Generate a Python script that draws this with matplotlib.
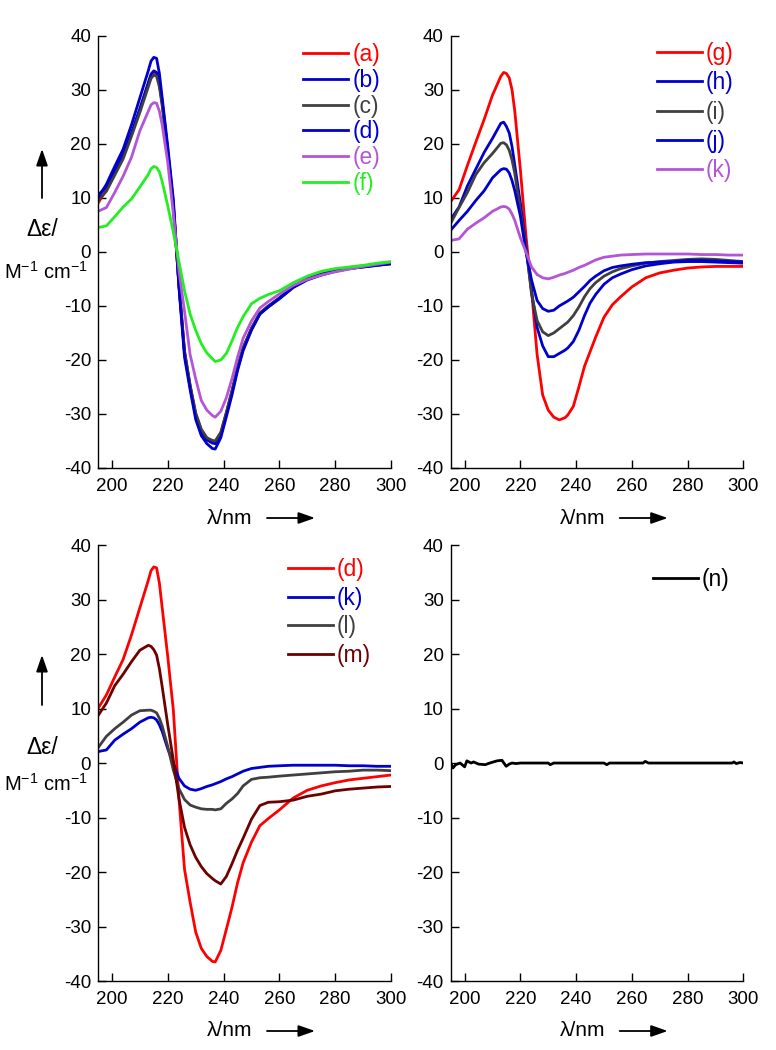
#%%
#plots the CD spectra of the four sample sets on a 2x2 grid
#values

import numpy as np
import matplotlib
matplotlib.use('Agg')
import matplotlib.pyplot as plt
from matplotlib.lines import Line2D
from matplotlib.patches import FancyArrowPatch

plt.rcParams['font.family'] = ['Liberation Sans', 'DejaVu Sans']
plt.rcParams['mathtext.fontset'] = 'custom'
plt.rcParams['mathtext.rm'] = 'Liberation Sans'
plt.rcParams['mathtext.it'] = 'Liberation Sans:italic'
plt.rcParams['axes.unicode_minus'] = False

#wavelength grid (nm) shared by the spectra
wl = [195, 198, 201, 204, 207, 210, 213, 214, 215, 216, 217, 218, 220, 222, 224, 226, 228, 230,
      232, 234, 236, 237, 239, 241, 243, 245, 247, 250, 253, 256, 260, 265, 270, 275, 280, 285,
      290, 295, 300]

#delta epsilon (M-1 cm-1)
spec_a = [9.0, 11.5, 14.5, 17.6, 21.8, 26.3, 31.0, 32.6, 33.2, 33.0, 31.0, 27.5, 18.5, 8.5, -6.0,
          -18.5, -24.8, -30.0, -33.0, -34.5, -35.1, -35.2, -33.5, -29.8, -25.8, -21.5, -17.8,
          -14.2, -11.4, -10.1, -8.6, -6.5, -5.1, -4.2, -3.5, -3.0, -2.7, -2.4, -2.2]
spec_b = [10.5, 12.0, 15.0, 18.0, 22.0, 26.5, 31.3, 32.9, 33.5, 33.2, 31.2, 27.8, 18.8, 8.8, -6.2,
          -18.8, -25.0, -30.3, -33.2, -34.8, -35.4, -35.5, -33.8, -30.0, -26.0, -21.6, -17.9,
          -14.3, -11.5, -10.2, -8.7, -6.6, -5.2, -4.3, -3.6, -3.1, -2.8, -2.5, -2.2]
spec_c = [9.5, 11.2, 14.2, 17.2, 21.4, 25.8, 30.5, 32.1, 32.7, 32.5, 30.5, 27.0, 18.2, 8.2, -6.0,
          -18.3, -24.6, -29.8, -32.8, -34.4, -34.9, -35.0, -33.4, -29.7, -25.7, -21.4, -17.7,
          -14.1, -11.3, -10.0, -8.5, -6.4, -5.0, -4.1, -3.4, -2.9, -2.6, -2.3, -2.1]
spec_d = [10.0, 12.5, 15.8, 19.0, 23.5, 28.5, 33.5, 35.3, 36.0, 35.8, 33.0, 28.5, 19.5, 9.7, -6.5,
          -19.5, -25.5, -31.0, -34.0, -35.5, -36.4, -36.5, -34.4, -30.5, -26.5, -22.0, -18.3,
          -14.5, -11.5, -10.2, -8.6, -6.4, -5.0, -4.2, -3.6, -3.1, -2.8, -2.5, -2.2]
spec_e = [7.5, 8.2, 11.0, 14.0, 17.5, 22.4, 26.0, 27.2, 27.6, 27.5, 26.0, 23.5, 16.5, 7.0, -3.5,
          -11.0, -19.0, -23.5, -27.5, -29.3, -30.3, -30.6, -29.5, -27.0, -23.5, -19.5, -16.0,
          -12.8, -10.4, -9.2, -7.8, -6.2, -5.1, -4.3, -3.7, -3.2, -2.7, -2.3, -1.9]
spec_f = [4.5, 4.8, 6.5, 8.3, 9.8, 12.0, 14.3, 15.4, 15.8, 15.6, 14.8, 13.0, 8.5, 3.6, -1.8, -7.2,
          -11.5, -14.5, -17.0, -18.7, -19.8, -20.3, -20.0, -18.8, -16.5, -14.0, -12.0, -9.6, -8.6,
          -7.9, -7.2, -5.7, -4.5, -3.6, -3.1, -2.8, -2.5, -2.1, -1.8]
spec_g = [9.3, 11.5, 16.0, 20.3, 24.5, 29.0, 32.5, 33.2, 33.0, 32.2, 30.0, 26.0, 15.2, 3.0, -7.0,
          -19.0, -26.5, -29.3, -30.6, -31.1, -30.7, -30.2, -28.6, -25.0, -21.2, -18.5, -15.8,
          -12.1, -9.8, -8.3, -6.5, -4.8, -3.9, -3.4, -3.0, -2.8, -2.7, -2.7, -2.7]
spec_h = [6.0, 8.3, 12.2, 15.3, 18.4, 21.0, 23.8, 24.0, 23.2, 22.0, 19.5, 16.0, 9.0, 1.0, -7.3,
          -14.0, -17.4, -19.4, -19.4, -18.8, -18.2, -17.8, -16.6, -14.5, -11.8, -9.5, -7.9, -6.0,
          -4.8, -4.1, -3.3, -2.6, -2.2, -1.9, -1.8, -1.8, -1.9, -2.0, -2.1]
spec_i = [5.3, 8.2, 11.0, 14.3, 16.5, 18.2, 20.1, 20.2, 19.8, 18.8, 17.0, 14.5, 7.5, 1.0, -7.8,
          -12.7, -14.8, -15.5, -15.0, -14.2, -13.4, -13.0, -11.8, -10.2, -8.3, -6.8, -5.7, -4.5,
          -3.7, -3.1, -2.6, -2.1, -1.8, -1.6, -1.4, -1.3, -1.4, -1.6, -1.8]
spec_j = [4.0, 5.8, 7.5, 9.5, 11.3, 13.7, 15.2, 15.4, 15.3, 14.6, 13.2, 11.3, 6.6, 0.0, -5.2, -9.0,
          -10.5, -11.0, -10.8, -10.0, -9.4, -9.1, -8.4, -7.4, -6.4, -5.3, -4.5, -3.5, -2.9, -2.6,
          -2.3, -2.0, -1.9, -1.8, -1.6, -1.6, -1.7, -1.8, -1.9]
spec_k = [2.1, 2.4, 4.2, 5.3, 6.3, 7.5, 8.3, 8.4, 8.3, 7.9, 7.0, 5.8, 2.6, 0.0, -2.8, -4.2, -4.8,
          -5.0, -4.7, -4.3, -4.0, -3.8, -3.4, -2.9, -2.5, -2.0, -1.5, -1.0, -0.8, -0.6, -0.5, -0.4,
          -0.4, -0.4, -0.4, -0.5, -0.5, -0.6, -0.6]
spec_l = [2.8, 4.9, 6.3, 7.5, 8.8, 9.6, 9.7, 9.7, 9.5, 9.2, 8.2, 6.8, 3.0, -1.3, -4.7, -6.7, -7.7,
          -8.1, -8.4, -8.5, -8.5, -8.6, -8.4, -7.4, -6.6, -5.6, -4.2, -3.0, -2.7, -2.6, -2.4, -2.2,
          -2.0, -1.8, -1.6, -1.5, -1.3, -1.3, -1.4]
spec_m = [8.7, 11.0, 14.2, 16.3, 18.6, 20.7, 21.6, 21.4, 20.8, 19.8, 17.3, 14.0, 7.0, 0.5, -6.5,
          -11.8, -15.0, -17.3, -19.0, -20.3, -21.2, -21.6, -22.2, -20.8, -18.5, -16.0, -13.8,
          -10.3, -7.8, -7.2, -7.1, -6.8, -6.1, -5.7, -5.1, -4.8, -4.6, -4.4, -4.3]

#blank sample (n) has its own grid
wl_n = [195, 195.8, 196.8, 198.4, 200, 200.8, 202.3, 203.2, 205, 207.4, 209, 211.6, 213.4, 214.9,
        216, 217, 218.5, 220, 230, 230.7, 232, 250, 251, 252, 264, 264.8, 266, 296, 296.6, 297.5,
        298.8, 300]
spec_n = [0.0, -0.9, -0.3, 0.0, -0.7, 0.4, 0.0, 0.2, -0.2, -0.3, 0.0, 0.4, 0.5, -0.6, -0.2, 0.0,
          -0.1, 0.0, 0.0, -0.3, 0.0, 0.0, -0.3, 0.0, 0.0, 0.3, 0.0, 0.0, 0.2, -0.1, 0.1, 0.0]

red = '#FF0000'
blue = '#0000CC'
gray = '#404040'
purple = '#B455D8'
green = '#22EE22'
maroon = '#6E0000'

#panel contents: (label, x, y, colour)
panels = [
    [('(a)', wl, spec_a, red), ('(b)', wl, spec_b, blue), ('(c)', wl, spec_c, gray),
     ('(d)', wl, spec_d, blue), ('(e)', wl, spec_e, purple), ('(f)', wl, spec_f, green)],
    [('(g)', wl, spec_g, red), ('(h)', wl, spec_h, blue), ('(i)', wl, spec_i, gray),
     ('(j)', wl, spec_j, blue), ('(k)', wl, spec_k, purple)],
    [('(d)', wl, spec_d, red), ('(k)', wl, spec_k, blue), ('(l)', wl, spec_l, gray),
     ('(m)', wl, spec_m, maroon)],
    [('(n)', wl_n, spec_n, 'black')],
]


def main():
    fig = plt.figure(figsize=(7.76, 10.5), dpi=100)

    rects = [[0.1263, 0.5543, 0.3776, 0.4117],   #top left
             [0.5808, 0.5543, 0.3771, 0.4117],   #top right
             [0.1263, 0.0657, 0.3776, 0.4152],   #bottom left
             [0.5808, 0.0657, 0.3771, 0.4152]]   #bottom right
    leg_anchor = [(0.70, 0.983), (0.705, 0.985), (0.648, 0.970), (0.691, 0.947)]
    leg_space = [0.12, 0.27, 0.24, 0.3]

    for p, rect in enumerate(rects):
        ax = fig.add_axes(rect)
        handles = []
        for lab, x, y, col in panels[p]:
            ax.plot(x, y, color=col, lw=2.0)
            handles.append(Line2D([], [], color=col, lw=2.0, label=lab))
        ax.set_xlim(195, 300)
        ax.set_ylim(-40, 40)
        ax.set_xticks(np.arange(200, 301, 20))
        ax.set_yticks(np.arange(-40, 41, 10))
        ax.spines['top'].set_visible(False)
        ax.spines['right'].set_visible(False)
        for s in ['left', 'bottom']:
            ax.spines[s].set_linewidth(1.0)
        ax.tick_params(direction='in', length=6, width=1.0, labelsize=13.5)
        ax.tick_params(axis='x', pad=7)
        ax.tick_params(axis='y', pad=5)
        ax.legend(handles=handles, loc='upper left', bbox_to_anchor=leg_anchor[p], frameon=False,
                  fontsize=16.5, handlelength=1.97, handletextpad=0.17, labelspacing=leg_space[p],
                  borderpad=0, borderaxespad=0, labelcolor='linecolor')

    #axis labels with the arrows, positions in pixels from the top of the image
    H = 1050
    arrow = dict(arrowstyle='-|>,head_length=1.0,head_width=0.35', color='black', lw=1.3,
                 mutation_scale=10, shrinkA=0, shrinkB=0)
    for tip, tail, t1, t2 in [(149, 198, 230, 272), (655, 705, 748, 784)]:
        fig.text(42 / 776, 1 - t1 / H, '\u0394\u03b5/', ha='center', va='center', fontsize=16.5)
        fig.text(46 / 776, 1 - t2 / H, r'M$^{-1}$ cm$^{-1}$', ha='center', va='center',
                 fontsize=14.5)
        fig.add_artist(FancyArrowPatch((42, H - tail), (42, H - tip), transform=None, **arrow))
    for dx in [0, 352.7]:
        for dy in [0, 513]:
            fig.text((230 + dx) / 776, 1 - (518 + dy) / H, '\u03bb/nm', ha='center', va='center',
                     fontsize=15)
            fig.add_artist(FancyArrowPatch((267 + dx, H - 518 - dy), (315 + dx, H - 518 - dy),
                                           transform=None, **arrow))

    fig.savefig('out.png', dpi=100)


if __name__ == '__main__':
    main()
